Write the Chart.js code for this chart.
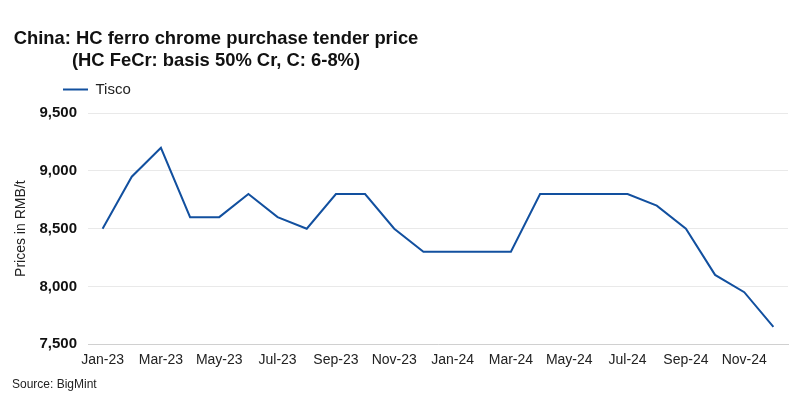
<!DOCTYPE html>
<html>
<head>
<meta charset="utf-8">
<script src="https://cdn.jsdelivr.net/npm/chart.js@4.4.1/dist/chart.umd.min.js"></script>
<style>
  html, body { margin: 0; padding: 0; background: #fff; }
  #wrap { position: relative; width: 800px; height: 398px; }
  #title {
    position: absolute; left: 13px; top: 27px; width: 406px;
    text-align: center; color: #111;
    font: bold 18.4px "Liberation Sans", Arial, sans-serif; line-height: 22px;
  }
  #source {
    position: absolute; left: 12px; top: 378px; color: #222;
    font: 12px "Liberation Sans", Arial, sans-serif; line-height: 12px;
  }
</style>
</head>
<body>
<div id="wrap">
  <canvas id="chart" width="800" height="398"></canvas>
  <div id="title">China: HC ferro chrome purchase tender price<br>(HC FeCr: basis 50% Cr, C: 6-8%)</div>
  <div id="source">Source: BigMint</div>
</div>
<script>
// months Jan-23 .. Dec-24
const months = ['Jan-23', 'Feb-23', 'Mar-23', 'Apr-23', 'May-23', 'Jun-23', 'Jul-23', 'Aug-23',
  'Sep-23', 'Oct-23', 'Nov-23', 'Dec-23', 'Jan-24', 'Feb-24', 'Mar-24', 'Apr-24',
  'May-24', 'Jun-24', 'Jul-24', 'Aug-24', 'Sep-24', 'Oct-24', 'Nov-24', 'Dec-24'];
const tisco = [8500, 8950, 9200, 8600, 8600, 8800, 8600, 8500,
  8800, 8800, 8500, 8300, 8300, 8300, 8300, 8800,
  8800, 8800, 8800, 8700, 8500, 8100, 7950, 7650];
const yTicks = [7500, 8000, 8500, 9000, 9500];

const font = '"Liberation Sans", Arial, sans-serif';

// push the legend over to where it sits in the original
const legendShift = {
  id: 'legendShift',
  afterLayout(chart) {
    chart.legend.left = 47;
  }
};

new Chart(document.getElementById('chart'), {
  type: 'line',
  data: {
    labels: months,
    datasets: [{
      label: 'Tisco',
      data: tisco,
      borderColor: '#12509f',
      backgroundColor: '#12509f',
      borderWidth: 2,
      pointRadius: 0,
      pointStyle: 'line',
      tension: 0
    }]
  },
  options: {
    responsive: false,
    animation: false,
    layout: { padding: { top: 66, bottom: 21, right: 12, left: 0 } },
    plugins: {
      title: { display: false },
      // empty spacer between legend and plot
      subtitle: {
        display: true,
        text: '',
        weight: 500,
        font: { size: 1 },
        padding: { top: 0, bottom: 5 }
      },
      tooltip: { enabled: false },
      legend: {
        position: 'top',
        align: 'start',
        labels: {
          usePointStyle: true,
          pointStyle: 'line',
          pointStyleWidth: 25,
          padding: 16,
          color: '#222',
          font: { family: font, size: 15 }
        }
      }
    },
    scales: {
      x: {
        offset: true,
        grid: { display: false, drawTicks: false },
        border: { color: '#d0d0d0', width: 1 },
        ticks: {
          autoSkip: false,
          maxRotation: 0,
          padding: 8,
          color: '#222',
          font: { family: font, size: 14 },
          callback: (v, i) => (i % 2 === 0 ? months[i] : '')
        }
      },
      y: {
        min: 7500,
        max: 9500,
        afterFit: (s) => { s.width = 88; },
        afterBuildTicks: (s) => { s.ticks = yTicks.map(v => ({ value: v })); },
        grid: { color: '#e9e9e9', drawTicks: false },
        border: { display: false },
        ticks: {
          padding: 11,
          color: '#111',
          font: { family: font, size: 15, weight: 'bold' },
          callback: (v) => v.toLocaleString('en-US')
        },
        title: {
          display: true,
          text: 'Prices in RMB/t',
          color: '#222',
          padding: { top: 13, bottom: 4 },
          font: { family: font, size: 14 }
        }
      }
    }
  },
  plugins: [legendShift]
});
</script>
</body>
</html>
